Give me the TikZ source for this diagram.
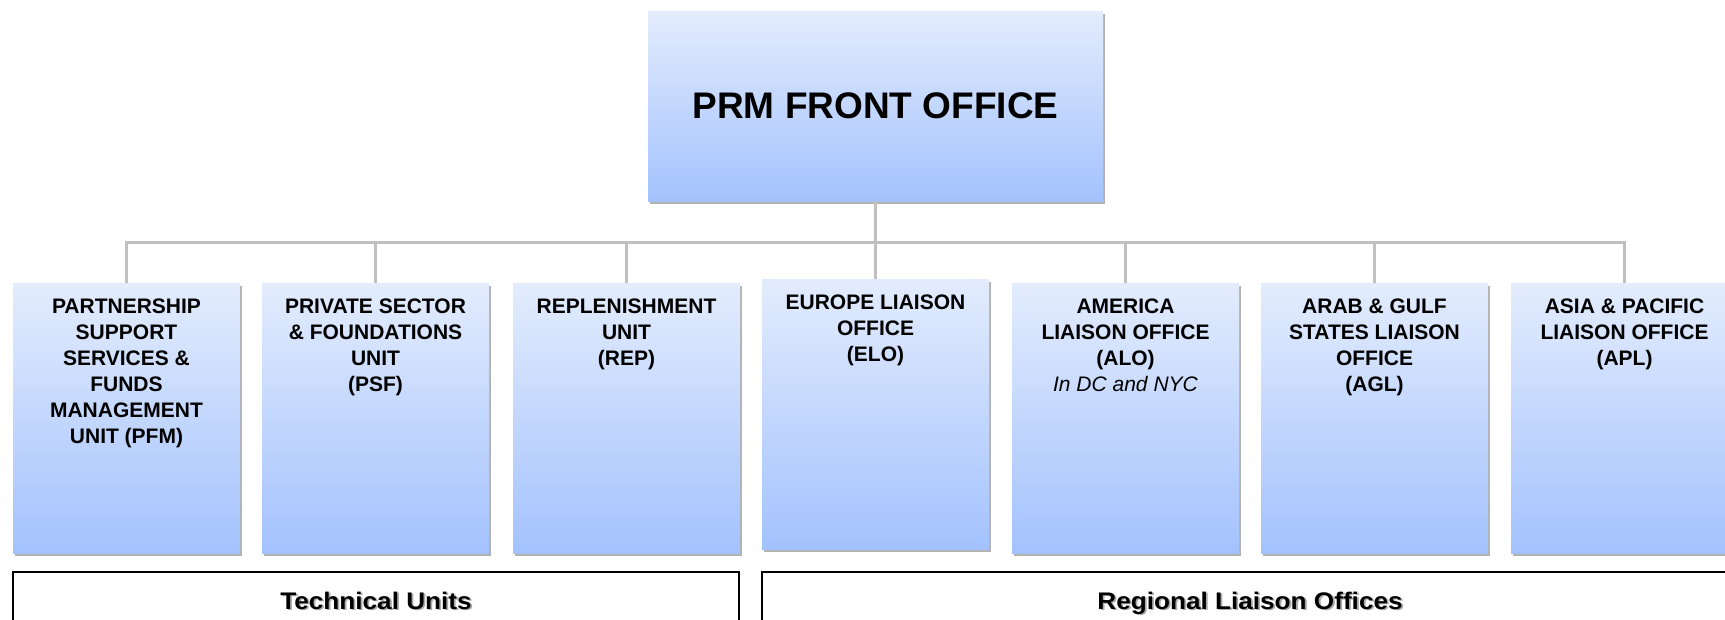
\documentclass[tikz,border=0pt]{standalone}
\usepackage{fontspec}
\setmainfont{Liberation Sans}
\usetikzlibrary{shadows}
\definecolor{gtop}{RGB}{227,236,253}
\definecolor{gbot}{RGB}{163,194,253}
\definecolor{linegray}{RGB}{192,192,192}
\begin{document}
\begin{tikzpicture}[x=1pt,y=-1pt,
  boxshadow/.style={drop shadow={shadow xshift=2pt, shadow yshift=-3pt, opacity=0.3, fill=black}},
  unitbox/.style={draw=none, top color=gtop, bottom color=gbot, minimum width=227pt, minimum height=270pt,
    anchor=north west, inner sep=0pt, outer sep=0pt, boxshadow},
  unittext/.style={anchor=north, align=center, inner sep=0pt, font=\fontsize{21}{26}\selectfont\bfseries},
  conn/.style={draw=linegray, line width=3pt, line join=miter},
  labelbox/.style={draw=black, line width=2pt, anchor=north west, inner sep=0pt, outer sep=0pt, minimum height=90pt},
  labeltext/.style={anchor=base, inner sep=0pt, font=\fontsize{24}{26}\selectfont\bfseries},
  shadowtext/.style={labeltext, text=black!55, opacity=0.6}
]
\useasboundingbox (0,0) rectangle (1725,619);

% y level of the bus
\coordinate (bus) at (0,242);

% front office
\node[draw=none, top color=gtop, bottom color=gbot, minimum width=455pt, minimum height=190pt,
  anchor=north west, inner sep=0pt, outer sep=0pt, boxshadow] (fo) at (648,11) {};
\node[inner sep=0pt, font=\fontsize{37}{40}\selectfont\bfseries] (fot) at (fo.center) {PRM FRONT OFFICE};

% unit boxes
\node[unitbox] (pfm) at (13,283) {};
\node[unitbox] (psf) at (262,283) {};
\node[unitbox] (rep) at (513,283) {};
\node[unitbox] (elo) at (762,279) {};
\node[unitbox] (alo) at (1012,283) {};
\node[unitbox] (agl) at (1261,283) {};
\node[unitbox] (apl) at (1511,283) {};

% connectors
\draw[conn] (pfm.north) -- (pfm.north |- bus) -- (apl.north |- bus) -- (apl.north);
\draw[conn] (fo.south) -- (fo.south |- bus);
\draw[conn] (psf.north) -- (psf.north |- bus);
\draw[conn] (rep.north) -- (rep.north |- bus);
\draw[conn] (elo.north) -- (elo.north |- bus);
\draw[conn] (alo.north) -- (alo.north |- bus);
\draw[conn] (agl.north) -- (agl.north |- bus);

% unit texts
\node[unittext] (pfmt) at ([yshift=-16pt]pfm.north) {PARTNERSHIP\\SUPPORT\\SERVICES \&\\FUNDS\\MANAGEMENT\\UNIT (PFM)};
\node[unittext] (psft) at ([yshift=-16pt]psf.north) {PRIVATE SECTOR\\\& FOUNDATIONS\\UNIT\\(PSF)};
\node[unittext] (rept) at ([yshift=-16pt]rep.north) {REPLENISHMENT\\UNIT\\(REP)};
\node[unittext] (elot) at ([yshift=-16pt]elo.north) {EUROPE LIAISON\\OFFICE\\(ELO)};
\node[unittext] (alot) at ([yshift=-16pt]alo.north) {AMERICA\\LIAISON OFFICE\\(ALO)\\{\mdseries\itshape In DC and NYC}};
\node[unittext] (aglt) at ([yshift=-16pt]agl.north) {ARAB \& GULF\\STATES LIAISON\\OFFICE\\(AGL)};
\node[unittext] (aplt) at ([yshift=-16pt]apl.north) {ASIA \& PACIFIC\\LIAISON OFFICE\\(APL)};

% group label boxes
\node[labelbox, minimum width=726pt] (tech) at (13,572) {};
\node[labelbox, minimum width=990pt] (reg) at (762,572) {};
\node[shadowtext] (techs) at (377.8,610.8) {\scalebox{1.09}[1]{Technical Units}};
\node[labeltext] (techt) at (376,609) {\scalebox{1.09}[1]{Technical Units}};
\node[shadowtext] (regs) at (1251.8,610.8) {\scalebox{1.09}[1]{Regional Liaison Offices}};
\node[labeltext] (regt) at (1250,609) {\scalebox{1.09}[1]{Regional Liaison Offices}};
\end{tikzpicture}
\end{document}
